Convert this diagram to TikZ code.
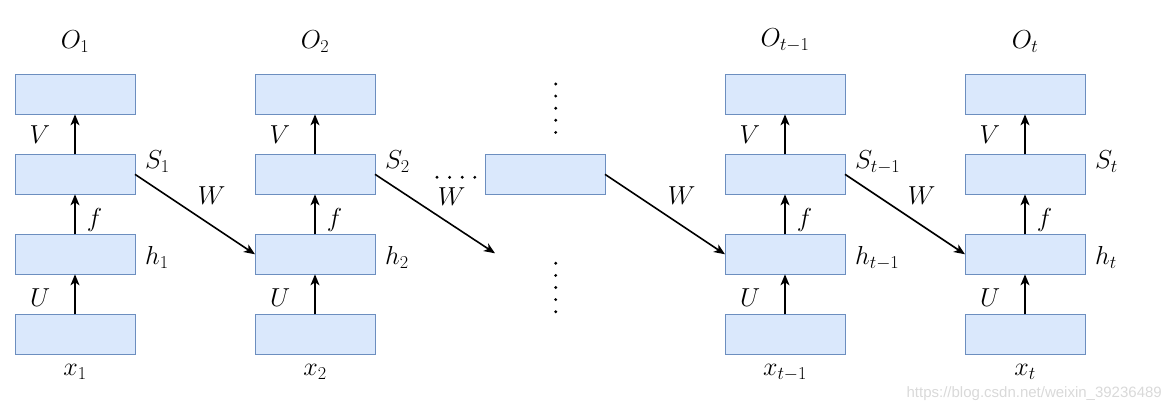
\RequirePackage{fix-cm}
\documentclass[tikz,border=0pt]{standalone}
\usepackage{fontspec}
\newfontfamily\wmfont{Liberation Sans}
\usetikzlibrary{positioning,arrows.meta,calc}
\definecolor{cellfill}{HTML}{DAE8FC}
\definecolor{cellline}{HTML}{6C8EBF}
\tikzset{
    cell/.style={rectangle, draw=cellline, fill=cellfill, line width=0.8pt, minimum width=120pt, minimum height=40pt, inner sep=0pt, outer sep=0pt},
    lab/.style={inner sep=0pt, font=\fontsize{26}{30}\selectfont},
    line/.style={draw, line width=1.6pt, -{Stealth[length=11pt, width=9pt, inset=3pt]}},
    dotrow/.style={line width=3.2pt, line cap=round}
}

\begin{document}
\begin{tikzpicture}[x=1pt, y=1pt, node distance=40pt]
        \useasboundingbox (0,0) rectangle (1171,-409);

        % column 1
        \node[cell] (x1) at (75,-334.3) {};
        \node[cell, above=of x1] (h1) {};
        \node[cell, above=of h1] (s1) {};
        \node[cell, above=of s1] (o1) {};
        \node[lab, below=10pt of x1] (x1lab) {$x_1$};
        \node[lab, above=22pt of o1] (o1lab) {$O_1$};
        \node[lab, anchor=base west] (s1lab) at ([xshift=10pt, yshift=6pt]s1.east) {$S_1$};
        \node[lab, anchor=base west] (h1lab) at ([xshift=10pt, yshift=-10pt]h1.east) {$h_1$};
        \draw[line] (x1) -- node[lab, left=24pt, yshift=-3pt] (u1) {$U$} (h1);
        \draw[line] (h1) -- node[lab, right=11pt, yshift=-6pt] (f1) {$f$} (s1);
        \draw[line] (s1) -- node[lab, left=24pt] (v1) {$V$} (o1);

        % column 2
        \node[cell, right=120pt of x1] (x2) {};
        \node[cell, above=of x2] (h2) {};
        \node[cell, above=of h2] (s2) {};
        \node[cell, above=of s2] (o2) {};
        \node[lab, below=10pt of x2] (x2lab) {$x_2$};
        \node[lab, above=22pt of o2] (o2lab) {$O_2$};
        \node[lab, anchor=base west] (s2lab) at ([xshift=10pt, yshift=6pt]s2.east) {$S_2$};
        \node[lab, anchor=base west] (h2lab) at ([xshift=10pt, yshift=-10pt]h2.east) {$h_2$};
        \draw[line] (x2) -- node[lab, left=24pt, yshift=-3pt] (u2) {$U$} (h2);
        \draw[line] (h2) -- node[lab, right=11pt, yshift=-6pt] (f2) {$f$} (s2);
        \draw[line] (s2) -- node[lab, left=24pt] (v2) {$V$} (o2);

        % middle
        \node[cell, right=110pt of s2] (mid) {};
        \draw[dotrow, dash pattern=on 0pt off 12.6pt] ([xshift=-48pt, yshift=-3pt]mid.west) -- ([xshift=-10pt, yshift=-3pt]mid.west);
        \draw[dotrow, dash pattern=on 0pt off 12.1pt] ([xshift=10.7pt, yshift=70.3pt]mid.north) -- ([xshift=10.7pt, yshift=21.8pt]mid.north);
        \draw[dotrow, dash pattern=on 0pt off 12.1pt] ([xshift=10.7pt, yshift=-69pt]mid.south) -- ([xshift=10.7pt, yshift=-117.5pt]mid.south);

        % column t-1
        \node[cell, right=120pt of mid] (sp) {};
        \node[cell, below=of sp] (hp) {};
        \node[cell, below=of hp] (xp) {};
        \node[cell, above=of sp] (op) {};
        \node[lab, below=10pt of xp] (xplab) {$x_{t-1}$};
        \node[lab, above=22pt of op] (oplab) {$O_{t-1}$};
        \node[lab, anchor=base west] (splab) at ([xshift=10pt, yshift=6pt]sp.east) {$S_{t-1}$};
        \node[lab, anchor=base west] (hplab) at ([xshift=10pt, yshift=-10pt]hp.east) {$h_{t-1}$};
        \draw[line] (xp) -- node[lab, left=24pt, yshift=-3pt] (up) {$U$} (hp);
        \draw[line] (hp) -- node[lab, right=11pt, yshift=-6pt] (fp) {$f$} (sp);
        \draw[line] (sp) -- node[lab, left=24pt] (vp) {$V$} (op);

        % column t
        \node[cell, right=120pt of sp] (st) {};
        \node[cell, below=of st] (ht) {};
        \node[cell, below=of ht] (xt) {};
        \node[cell, above=of st] (ot) {};
        \node[lab, below=10pt of xt] (xtlab) {$x_t$};
        \node[lab, above=22pt of ot] (otlab) {$O_t$};
        \node[lab, anchor=base west] (stlab) at ([xshift=10pt, yshift=6pt]st.east) {$S_t$};
        \node[lab, anchor=base west] (htlab) at ([xshift=10pt, yshift=-10pt]ht.east) {$h_t$};
        \draw[line] (xt) -- node[lab, left=24pt, yshift=-3pt] (ut) {$U$} (ht);
        \draw[line] (ht) -- node[lab, right=11pt, yshift=-6pt] (ft) {$f$} (st);
        \draw[line] (st) -- node[lab, left=24pt] (vt) {$V$} (ot);

        % recurrent links
        \coordinate[below right=79pt and 120pt of s2.east] (wend);
        \draw[line] (s1.east) -- node[lab, above right=9pt and 2pt] (w1) {$W$} (h2.west);
        \draw[line] (s2.east) -- node[lab, above right=7pt and 2pt] (w2) {$W$} (wend);
        \draw[line] (mid.east) -- node[lab, above right=9pt and 2pt] (w3) {$W$} (hp.west);
        \draw[line] (sp.east) -- node[lab, above right=9pt and 2pt] (w4) {$W$} (ht.west);

        \node[font=\wmfont\fontsize{15}{18}\selectfont, text=black!15, anchor=base east, inner sep=0pt] (wm) at ([xshift=77pt, yshift=-43pt]xt.south east) {https://blog.csdn.net/weixin\_39236489};
    \end{tikzpicture}
\end{document}
